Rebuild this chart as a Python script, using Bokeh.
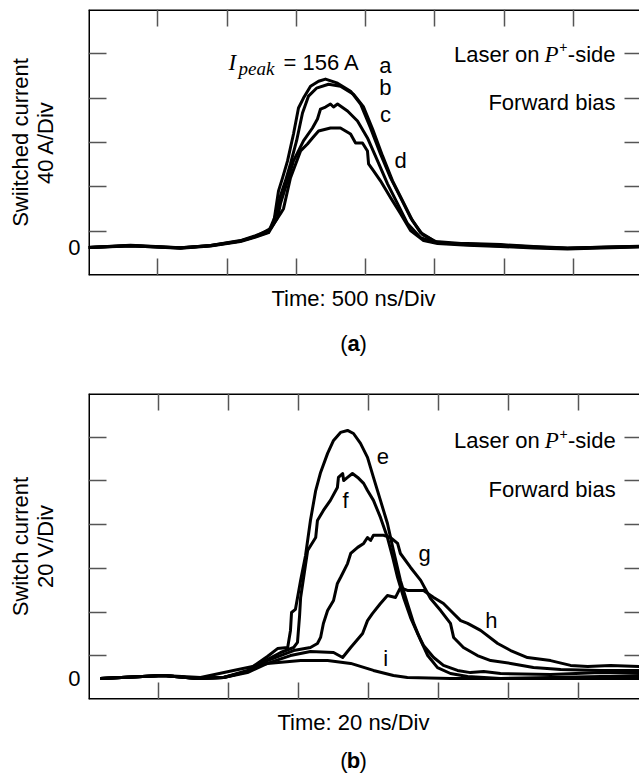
from bokeh.plotting import figure
from bokeh.models import LinearAxis, FixedTicker, Range1d, Label, Spacer
from bokeh.layouts import column, row
from bokeh.embed import file_html
from bokeh.resources import INLINE

# ---------------- panel (a): switched current, 500 ns/div, 40 A/div ----------------
t_a = [0, 303, 664, 881, 1097, 1206, 1300, 1336, 1372, 1401, 1437, 1480, 1516, 1552, 1603, 1661, 1711,
       1798, 1892, 1964, 2036, 2108, 2181, 2253, 2325, 2397, 2491, 2542, 2736, 2975, 3213, 3458, 3697, 3978]
i_a = [0, 1.8, -0.4, 1.8, 6.3, 10.8, 15.3, 21.6, 51.2, 62.9, 78.2, 102.5, 125.9, 134.9, 145.6, 150.1, 152.0,
       148.3, 141.1, 129.5, 107.9, 84.5, 62.9, 45.0, 27.0, 13.5, 6.3, 3.6, 3.6, 2.7, 0.9, -0.4, 0.4, 1.3]

t_b = [0, 303, 664, 881, 1097, 1206, 1300, 1350, 1386, 1422, 1458, 1502, 1545, 1588, 1646, 1733, 1819,
       1913, 1986, 2051, 2123, 2195, 2267, 2339, 2412, 2505, 2736, 2975, 3213, 3458, 3697, 3978]
i_b = [0, 1.4, -0.2, 1.6, 5.8, 10.0, 14.0, 28.8, 46.7, 60.2, 75.5, 96.2, 121.4, 136.6, 143.8, 147.4, 145.6,
       138.4, 126.8, 107.0, 82.7, 60.2, 42.3, 24.3, 11.7, 5.4, 3.2, 2.2, 0.6, -0.6, 0.2, 1.0]

t_c = [0, 303, 664, 881, 1097, 1206, 1300, 1365, 1386, 1437, 1480, 1552, 1617, 1653, 1675, 1711, 1747,
       1769, 1798, 1870, 1942, 2014, 2087, 2159, 2231, 2303, 2397, 2505, 2736, 2975, 3213, 3458, 3697, 3978]
i_c = [0, 1.6, -0.6, 1.4, 5.4, 9.5, 13.5, 27.0, 39.6, 60.2, 78.2, 96.2, 107.9, 116.0, 125.0, 126.8, 129.5,
       126.8, 129.5, 123.2, 114.2, 98.9, 78.2, 57.5, 39.6, 21.6, 9.0, 4.5, 2.7, 1.4, 0.4, -0.9, 0, 0.9]

t_d = [0, 303, 664, 881, 1097, 1206, 1314, 1386, 1408, 1458, 1531, 1581, 1617, 1661, 1747, 1819,
       1892, 1928, 1978, 2014, 2022, 2058, 2108, 2181, 2253, 2325, 2419, 2520, 2736, 2975, 3213, 3458, 3697, 3978]
i_d = [0, 2.0, -0.2, 1.8, 6.0, 10.0, 17.1, 30.6, 35.1, 62.9, 87.2, 93.5, 98.9, 105.2, 107.9, 107.9,
       102.5, 94.4, 94.4, 87.2, 75.5, 69.2, 60.2, 45.0, 30.6, 15.3, 6.3, 3.6, 2.2, 1.0, -0.4, -1.3, -0.4, 0.6]

top_curves = [(t_a, i_a), (t_b, i_b), (t_c, i_c), (t_d, i_d)]
top_names = ["a", "b", "c", "d"]
top_name_x = [2144, 2144, 2144, 2253]
top_name_y = [164.1, 144.7, 120.4, 78.2]

# ---------------- panel (b): switch current, 20 ns/div, 20 V/div ----------------
t_e = [3.4, 21.4, 31.1, 38.6, 45.4, 51.1, 54.0, 56.9, 57.7, 58.0, 59.1, 60.6, 62.0, 63.4, 64.9, 66.3, 68.3,
       70.0, 72.0, 74.0, 75.7, 77.7, 79.7, 81.4, 83.4, 85.4, 87.1, 89.1, 91.1, 92.9, 94.9, 96.9, 99.7, 103.4,
       108.3, 117.7, 132.0, 146.3, 157.4]
v_e = [0, 1.4, 0, 0.5, 3.7, 10.1, 13.7, 14.2, 22.0, 30.2, 31.6, 44.9, 56.3, 72.3, 86.0, 94.3, 103.0,
       108.9, 112.6, 113.5, 112.1, 107.6, 101.2, 92.0, 81.5, 70.9, 58.6, 44.9, 34.3, 25.2, 17.4, 10.5, 5.0, 2.3,
       0.9, 0, 0.5, 0.9, 0.9]

t_f = [3.4, 21.4, 31.1, 38.6, 45.4, 51.1, 54.9, 58.6, 59.7, 60.3, 60.6, 62.6, 64.9, 65.4, 67.1, 69.1, 71.1,
       71.4, 72.6, 72.9, 74.0, 75.4, 76.9, 78.6, 79.7, 81.4, 83.4, 85.4, 86.9, 88.3, 90.0, 92.0, 94.0, 95.7,
       98.6, 101.4, 105.4, 109.1, 112.9, 117.7, 132.0, 146.3, 157.4]
v_f = [0, 1.4, 0, 0.5, 3.2, 8.7, 11.9, 14.2, 16.5, 28.8, 37.1, 58.6, 64.5, 72.3, 76.9, 81.5, 87.4,
       92.0, 93.8, 90.6, 92.0, 93.8, 92.0, 89.3, 86.0, 81.5, 73.7, 64.5, 55.4, 46.2, 37.1, 27.9, 20.6, 15.1,
       9.6, 6.0, 3.7, 2.7, 3.2, 2.3, 1.8, 2.7, 2.3]

t_g = [3.4, 21.4, 31.1, 38.6, 45.4, 51.1, 58.6, 63.4, 65.4, 66.3, 67.1, 68.3, 70.0, 71.1, 72.0, 74.0, 74.9,
       76.9, 78.6, 79.7, 80.6, 81.4, 84.3, 86.3, 88.3, 89.1, 92.0, 94.9, 97.7, 100.6, 103.4, 104.3, 107.1,
       111.1, 114.9, 120.6, 127.1, 134.9, 146.3, 157.4]
v_g = [0, 1.4, 0, 0.5, 3.2, 8.2, 12.8, 14.2, 16.0, 18.8, 25.2, 31.1, 35.7, 43.5, 46.2, 52.6, 57.2,
       60.0, 61.8, 64.5, 63.2, 65.5, 65.5, 64.5, 61.8, 57.2, 50.8, 44.9, 36.6, 31.1, 25.2, 18.8, 14.2,
       10.5, 8.2, 6.9, 5.0, 4.1, 3.7, 3.7]

t_h = [3.4, 21.4, 31.1, 38.6, 45.4, 51.1, 57.7, 63.4, 70.0, 72.6, 74.9, 78.3, 79.7, 81.1, 83.4, 85.4, 87.7,
       89.1, 91.1, 95.7, 98.6, 101.4, 103.4, 106.3, 108.3, 112.0, 116.9, 120.6, 125.4, 132.0, 137.7, 142.6,
       149.1, 157.4]
v_h = [0, 1.4, 0, 0.5, 2.7, 6.9, 10.5, 12.4, 11.9, 9.6, 14.2, 20.6, 26.5, 29.7, 34.3, 38.0, 37.1,
       41.6, 40.3, 40.3, 37.1, 34.3, 31.1, 26.5, 25.2, 22.0, 16.0, 12.8, 9.6, 8.2, 6.0, 5.5,
       6.0, 5.5]

t_i = [3.4, 21.4, 32.0, 41.4, 51.1, 60.6, 68.3, 74.9, 81.4, 87.1, 91.1, 103.4, 157.4]
v_i = [0, 1.4, 0.5, 3.7, 6.9, 8.2, 8.2, 6.9, 3.7, 1.4, 0.5, 0, 0]

bot_curves = [(t_e, v_e), (t_f, v_f), (t_g, v_g), (t_h, v_h), (t_i, v_i)]
bot_names = ["e", "f", "g", "h", "i"]
bot_name_x = [84.1, 73.4, 96.0, 115.1, 84.9]
bot_name_y = [101.4, 81.5, 57.2, 26.5, 9.2]

# axis scales (divisions)
top_ns_per_div, top_a_per_div = 500, 40
bot_ns_per_div, bot_v_per_div = 20, 20

SANS = "Liberation Sans"
SERIF = "Liberation Serif"
FS = "22px"
TICK_COLOR = "#555555"
W = 634


def mk_axis(ticks, tick_in, loc, line=True):
    return LinearAxis(
        ticker=FixedTicker(ticks=ticks), major_tick_in=tick_in, major_tick_out=0,
        minor_tick_in=0, minor_tick_out=0, major_label_text_font_size="0px",
        major_label_text_alpha=0, major_label_text_color=None,
        major_label_standoff=0, axis_line_color="black" if line else None,
        axis_line_width=3, major_tick_line_color=TICK_COLOR, major_tick_line_width=1.5,
        fixed_location=loc)


def make_panel(height, y_range, x_range, xticks, yticks, ylabel, top_border):
    p = figure(width=W, height=height, x_range=x_range, y_range=y_range,
               x_axis_location=None, y_axis_location=None,
               output_backend="svg", toolbar_location=None,
               min_border_left=0, min_border_right=0,
               min_border_top=top_border, min_border_bottom=5)
    p.outline_line_color = None
    p.background_fill_color = "white"
    p.border_fill_color = "white"
    for g in p.grid:
        g.visible = False
    p.add_layout(mk_axis(xticks, 17, y_range.start), "below")
    p.add_layout(mk_axis(xticks, 17, y_range.end), "above")
    p.add_layout(mk_axis(yticks, 15, x_range.end, line=False), "right")
    p.add_layout(mk_axis(yticks, 18, x_range.start), "left")
    zero_axis = LinearAxis(
        ticker=FixedTicker(ticks=[0]), major_tick_in=0, major_tick_out=0,
        minor_tick_in=0, minor_tick_out=0, axis_line_color=None,
        major_label_text_font=SANS, major_label_text_font_size=FS,
        major_label_standoff=8, major_label_text_color="black",
        axis_label=ylabel, axis_label_text_font=SANS, axis_label_text_font_size=FS,
        axis_label_text_font_style="normal", axis_label_standoff=7,
        axis_label_text_line_height=1.0, axis_label_text_color="black")
    p.add_layout(zero_axis, "left")
    return p


def lbl(p, x, y, text, **kw):
    opts = dict(text_font=SANS, text_font_size=FS, text_color="black",
                text_align="left", text_baseline="middle")
    opts.update(kw)
    p.add_layout(Label(x=x, y=y, text=text, **opts))


def laser_text(p, x, y1, y2):
    lbl(p, x, y1, "-side", text_align="right")
    lbl(p, x, y1, "+", text_align="right", text_font_size="14px", x_offset=-48, y_offset=7)
    lbl(p, x, y1, "P", text_align="right", text_font=SERIF, text_font_style="italic",
        text_font_size="23px", x_offset=-57)
    lbl(p, x, y1, "Laser on", text_align="right", x_offset=-76)
    lbl(p, x, y2, "Forward bias", text_align="right")


def make_footer(height, time_text, tag, y_time, y_tag):
    # the column aligns this frame with the plot frames above (page x 88 .. 639)
    f = figure(width=W, height=height, x_range=Range1d(88, 639), y_range=Range1d(0, height),
               x_axis_location=None, y_axis_location=None,
               output_backend="svg", toolbar_location=None, min_border=0)
    f.outline_line_color = None
    for g in f.grid:
        g.visible = False
    cx = 353
    lbl(f, cx, y_time, time_text, text_align="center")
    lbl(f, cx - 6, y_tag, "(", text_align="right")
    lbl(f, cx, y_tag, tag, text_align="center", text_font_style="bold")
    lbl(f, cx + 6, y_tag, ")", text_align="left")
    return f


# ---------- top panel ----------
top_y0 = -25.2
p1 = make_panel(280, Range1d(top_y0, top_y0 + 6 * top_a_per_div), Range1d(0, 3978),
                [top_ns_per_div * k for k in range(1, 8)],
                [top_y0 + top_a_per_div * k for k in range(1, 6)],
                "Swiitched current\n40 A/Div", 9)
for t, v in top_curves:
    p1.line(t, v, line_color="black", line_width=3, line_join="round")
for name, x, y in zip(top_names, top_name_x, top_name_y):
    lbl(p1, x, y, name, text_align="center")
lbl(p1, 1011, 167.2, "I", text_font=SERIF, text_font_style="italic", text_font_size="23px")
lbl(p1, 1011, 167.2, "peak", text_font=SERIF, text_font_style="italic", text_font_size="19px",
    x_offset=10, y_offset=-6)
lbl(p1, 1011, 167.2, "= 156 A", x_offset=55)
laser_text(p1, 3805, 174.4, 131.0)
f1 = make_footer(98, "Time: 500 ns/Div", "a", 80, 35)

# ---------- bottom panel ----------
bot_y0 = -9.6
p2 = make_panel(326, Range1d(bot_y0, bot_y0 + 7 * bot_v_per_div), Range1d(0, 157.4),
                [bot_ns_per_div * k for k in range(1, 8)],
                [bot_y0 + bot_v_per_div * k for k in range(1, 7)],
                "Switch current\n20 V/Div", 15)
for t, v in bot_curves:
    p2.line(t, v, line_color="black", line_width=3, line_join="round")
for name, x, y in zip(bot_names, bot_name_x, bot_name_y):
    lbl(p2, x, y, name, text_align="center")
laser_text(p2, 150.6, 108.7, 86.5)
f2 = make_footer(72, "Time: 20 ns/Div", "b", 54, 16)

layout = row(Spacer(width=5), column(p1, f1, p2, f2, spacing=0), spacing=0)
open("out.html", "w").write(file_html(layout, INLINE))
